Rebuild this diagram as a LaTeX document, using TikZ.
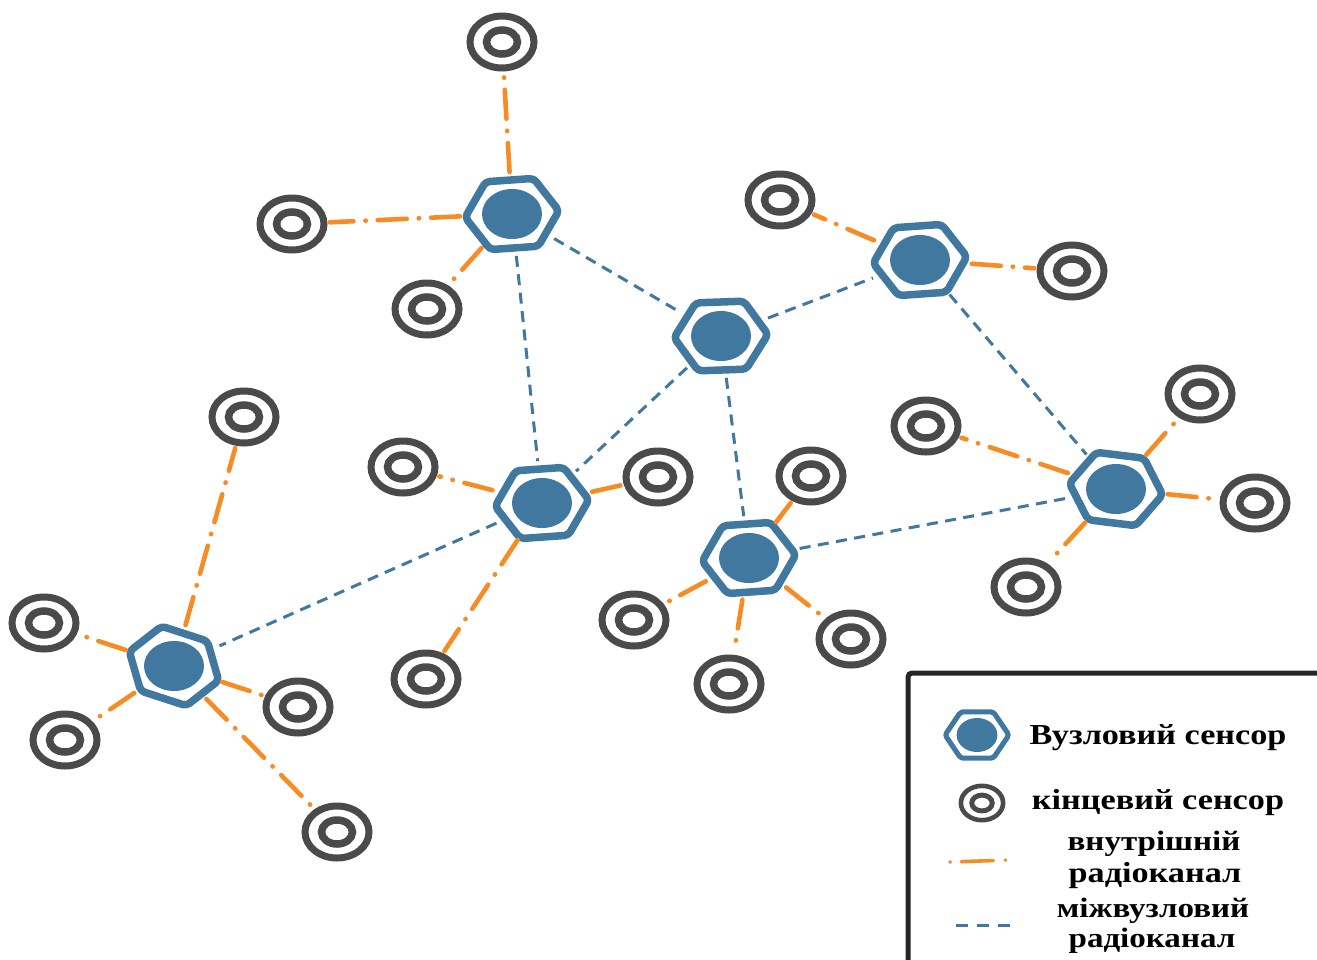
\documentclass[tikz,border=0pt]{standalone}
\usepackage{fontspec}
\setmainfont{Liberation Serif}[FakeStretch=1.18]
\usetikzlibrary{shapes.geometric}
\definecolor{hubblue}{HTML}{41789F}
\definecolor{sensgray}{HTML}{4A4A4A}
\definecolor{inner}{HTML}{F78B24}
\tikzset{
  hubarea/.style={ellipse,minimum width=#1*104pt,minimum height=#1*84pt,inner sep=0pt,outer sep=0pt},
  hubcore/.style={ellipse,fill=hubblue,minimum width=#1*60pt,minimum height=#1*50pt,inner sep=0pt},
  hubline/.style={draw=hubblue,line width=#1*7.5pt,rounded corners=#1*4pt,line join=round},
  sensorring/.style={ellipse,draw=sensgray,line width=#1*7pt,minimum width=#1*64pt,minimum height=#1*52pt,inner sep=0pt,outer sep=#1*6pt},
  sensorcore/.style={ellipse,draw=sensgray,line width=#1*7.5pt,minimum width=#1*31pt,minimum height=#1*24pt,inner sep=0pt},
  radiolink/.style={draw=inner,line width=4.6pt,line cap=round,dash pattern=on 29pt off 12pt on 0.4pt off 12pt},
  meshlink/.style={draw=hubblue,line width=3pt,dash pattern=on 11pt off 7.5pt},
  legendtext/.style={font=\fontsize{#1}{#1}\selectfont\bfseries,inner sep=0pt,text=black},
  legendtext/.default=29
}
% \hubnode{name}{x}{y}{rotation}{scale}
\newcommand{\hubnode}[5]{%
  \node[hubarea=#5] (#1) at (#2,#3) {};
  \node[hubcore=#5] (#1-core) at (#2,#3) {};
  \begin{scope}[shift={(#2,#3)},rotate=#4,scale=#5]
    \draw[hubline=#5] (-47,0) -- (-24,-34) -- (24,-34) -- (47,0) -- (24,34) -- (-24,34) -- cycle;
  \end{scope}}
% \sensornode{name}{x}{y}{scale}
\newcommand{\sensornode}[4]{%
  \node[sensorring=#4] (#1) at (#2,#3) {};
  \node[sensorcore=#4] (#1-core) at (#2,#3) {};}
\begin{document}
\begin{tikzpicture}[x=1pt,y=-1pt]
\useasboundingbox (0,0) rectangle (1317,959);
\fill[white] (0,0) rectangle (1317,959);
\hubnode{ha}{512}{214}{4}{1}
\hubnode{hb}{920}{260}{4}{1}
\hubnode{hc}{721}{336}{2}{1}
\hubnode{hd}{542}{503}{4}{1}
\hubnode{he}{749}{558}{4}{1}
\hubnode{hf}{1116}{489}{-7}{1}
\hubnode{hg}{174}{666}{-18}{1}
\sensornode{s1}{502}{42}{1}
\sensornode{s2}{292}{224}{1}
\sensornode{s3}{427}{309}{1}
\sensornode{s4}{780}{200}{1}
\sensornode{s5}{1072}{271}{1}
\sensornode{s6}{926}{426}{1}
\sensornode{s7}{1200}{394}{1}
\sensornode{s8}{1255}{503}{1}
\sensornode{s9}{1026}{587}{1}
\sensornode{s10}{811}{476}{1}
\sensornode{s11}{634}{620}{1}
\sensornode{s12}{729}{684}{1}
\sensornode{s13}{851}{639}{1}
\sensornode{s14}{658}{477}{1}
\sensornode{s15}{403}{467}{1}
\sensornode{s16}{426}{679}{1}
\sensornode{s17}{244}{417}{1}
\sensornode{s18}{44}{623}{1}
\sensornode{s19}{65}{740}{1}
\sensornode{s20}{298}{707}{1}
\sensornode{s21}{337}{832}{1}
\foreach \a/\b in {s1/ha,s2/ha,s3/ha,s4/hb,s5/hb,s6/hf,s7/hf,s8/hf,s9/hf,s10/he,s11/he,s12/he,s13/he,s14/hd,s15/hd,s16/hd,s17/hg,s18/hg,s19/hg,s20/hg,s21/hg}
  \draw[radiolink] (\b) -- (\a);
\foreach \a/\b in {ha/hc,ha/hd,hc/hb,hc/hd,hc/he,hb/hf,he/hf,hd/hg}
  \draw[meshlink] (\a) -- (\b);
% legend
\draw[draw=black!85,line width=5pt,rounded corners=4pt] (908,965) -- (908,673) -- (1325,673);
\hubnode{lh}{977}{735}{0}{0.68}
\sensornode{ls}{982}{803}{0.66}
\coordinate (loa) at (950,862);
\coordinate (lob) at (1010,860);
\coordinate (lba) at (956,925);
\coordinate (lbb) at (1018,925);
\draw[draw=inner,line width=3.6pt,line cap=round,dash pattern=on 0.3pt off 11pt on 32pt off 12pt on 0.3pt off 20pt] (loa) -- (lob);
\draw[draw=hubblue,line width=3pt,dash pattern=on 12pt off 9pt] (lba) -- (lbb);
\node[legendtext] (t1) at (1158,738) {Вузловий сенсор};
\node[legendtext] (t2) at (1158,803) {кінцевий сенсор};
\node[legendtext=28] (t3) at (1154,844) {внутрішній};
\node[legendtext] (t4) at (1155,876) {радіоканал};
\node[legendtext=28] (t5) at (1153,911) {міжвузловий};
\node[legendtext=28] (t6) at (1152,941) {радіоканал};
\end{tikzpicture}
\end{document}
